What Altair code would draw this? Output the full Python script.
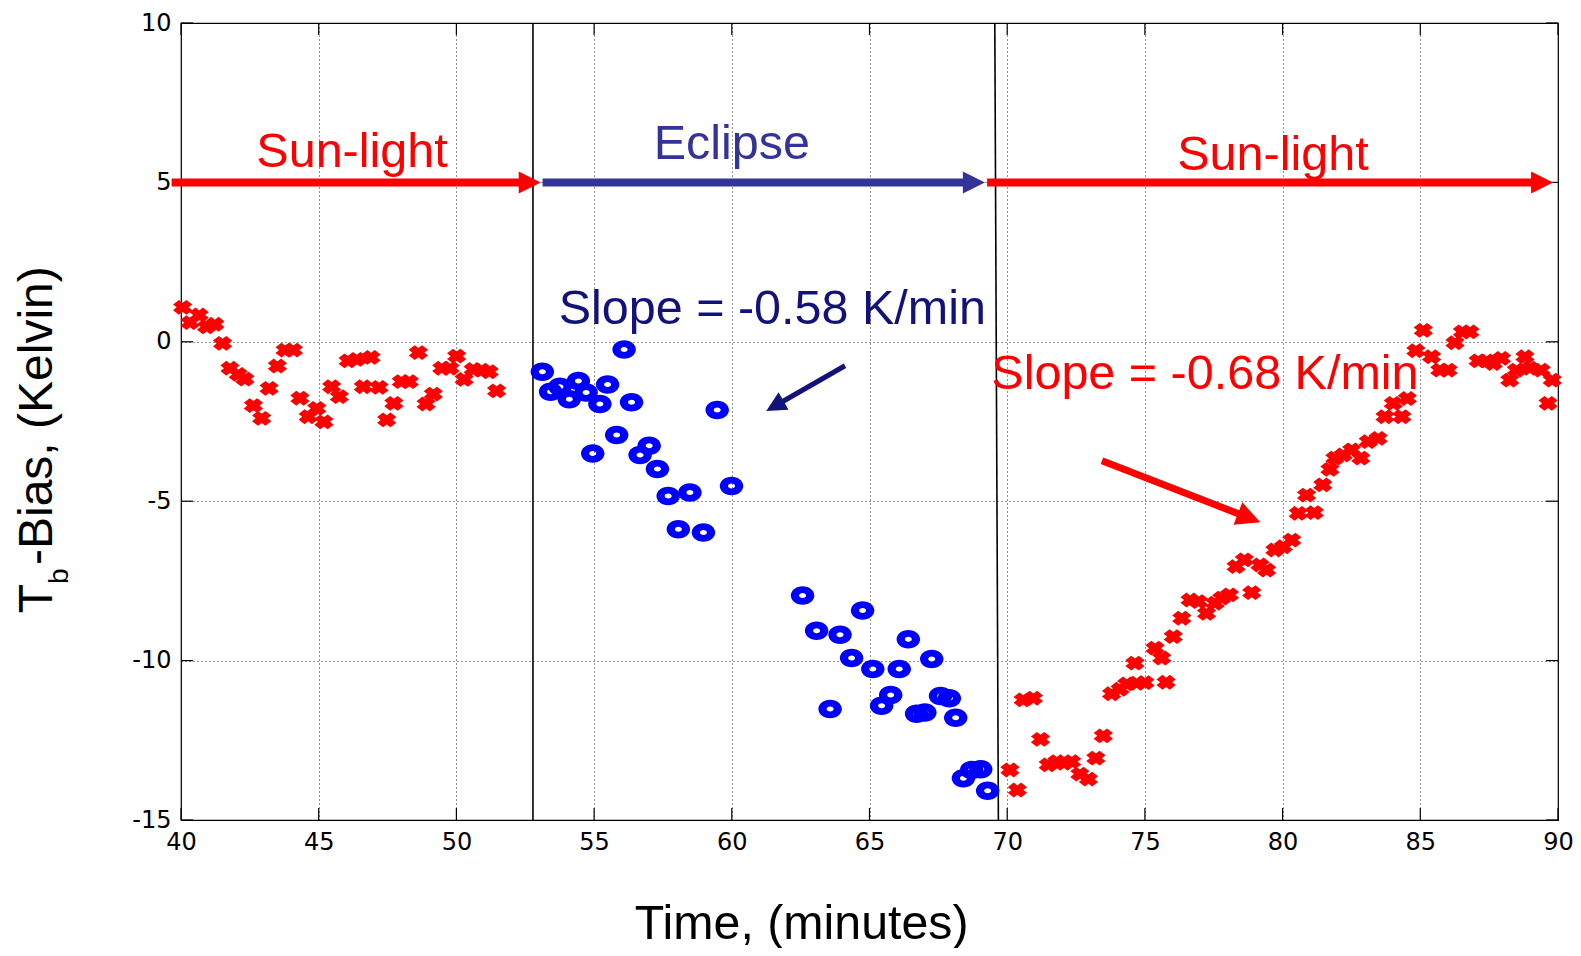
import math
import altair as alt
import pandas as pd

# ---------------- data ----------------
sun1_t = [40.06, 40.33, 40.66, 40.93, 41.23, 41.51, 41.78, 42.08, 42.32, 42.63, 42.93, 43.2, 43.5, 43.78,
          44.08, 44.32, 44.62, 44.93, 45.19, 45.47, 45.75, 46.07, 46.38, 46.62, 46.9, 47.19, 47.47, 47.73,
          48.0, 48.29, 48.62, 48.9, 49.16, 49.47, 49.77, 50.01, 50.28, 50.61, 50.92, 51.19, 51.46]
sun1_v = [1.08, 0.60, 0.84, 0.47, 0.55, -0.05, -0.83, -1.02, -1.17, -2.0, -2.40, -1.46, -0.76, -0.26,
          -0.26, -1.77, -2.35, -2.09, -2.51, -1.41, -1.72, -0.60, -0.55, -1.41, -0.49, -1.43, -2.45, -1.93,
          -1.25, -1.25, -0.34, -1.95, -1.64, -0.83, -0.83, -0.45, -1.18, -0.87, -0.89, -0.94, -1.54]

ecl_t = [53.12, 53.42, 53.76, 54.1, 54.43, 54.71, 55.21, 55.49, 54.95, 56.09, 56.36, 55.82, 57.0, 56.67,
         57.3, 57.69, 58.48, 58.06, 58.97, 59.47, 59.99, 62.57, 63.08, 63.93, 64.75, 64.35, 65.12, 66.08,
         66.41, 67.26, 63.57, 65.77, 65.44, 66.71, 67.01, 67.58, 67.9, 68.13, 68.41, 68.71, 69.04, 69.29]
ecl_v = [-0.94, -1.57, -1.41, -1.80, -1.23, -1.59, -1.95, -1.34, -3.50, -0.24, -1.90, -2.92, -3.26, -3.55,
         -3.99, -4.84, -4.73, -5.88, -5.98, -2.14, -4.52, -7.96, -9.06, -9.19, -8.43, -9.92, -10.26, -10.26,
         -9.33, -9.95, -11.52, -11.08, -11.42, -11.67, -11.63, -11.11, -11.18, -11.79, -13.69, -13.43, -13.41, -14.08]

sun2_t = [70.1, 70.37, 70.58, 70.95, 71.21, 71.49, 71.8, 72.06, 72.34, 72.64, 72.95, 73.22, 73.49, 73.79,
          74.1, 74.34, 74.7, 75.0, 74.64, 75.37, 75.61, 75.77, 76.03, 76.34, 76.64, 76.94, 77.24, 77.55,
          77.79, 78.07, 78.31, 78.61, 78.88, 79.18, 79.42, 79.72, 80.03, 80.33, 80.57, 80.87, 81.15, 81.46,
          81.72, 81.9, 82.2, 82.51, 82.84, 83.11, 83.47, 83.72, 84.02, 84.33, 84.53, 84.84, 85.11, 85.41,
          85.71, 86.01, 86.26, 86.53, 86.8, 87.1, 87.41, 87.65, 87.95, 88.25, 88.49, 88.8, 88.98, 89.39,
          89.64, 89.79]
sun2_v = [-13.43, -14.06, -11.23, -11.18, -12.47, -13.27, -13.17, -13.22, -13.17, -13.56, -13.72, -13.06,
          -12.36, -11.04, -10.9, -10.73, -10.71, -10.69, -10.08, -9.61, -9.92, -10.68, -9.25, -8.67, -8.1,
          -8.15, -8.52, -8.2, -8.04, -7.94, -7.05, -6.84, -7.87, -7.0, -7.16, -6.53, -6.43, -6.22, -5.38,
          -4.81, -5.36, -4.49, -4.0, -3.65, -3.55, -3.39, -3.65, -3.13, -3.03, -2.35, -1.93, -2.35, -1.78,
          -0.28, 0.36, -0.47, -0.89, -0.89, -0.03, 0.31, 0.31, -0.6, -0.6, -0.68, -0.52, -1.2, -0.89, -0.47,
          -0.83, -0.89, -1.93, -1.2]

x_ticks = [40, 45, 50, 55, 60, 65, 70, 75, 80, 85, 90]
y_ticks = [-15, -10, -5, 0, 5, 10]

# phase boundaries (vertical black lines): top / bottom x
bound_top = [52.78, 69.55]
bound_bot = [52.78, 69.68]

# phase arrows at y = 5
phase_start = [39.66, 53.13, 69.27]
phase_tip = [53.06, 69.19, 89.82]
phase_level = [5, 5, 5]
phase_color = ["#FF0000", "#333399", "#FF0000"]

# slope arrows
slope_from_t = [64.11, 73.44]
slope_from_v = [-0.75, -3.73]
slope_to_t = [61.25, 79.19]
slope_to_v = [-2.17, -5.66]
slope_color = ["#12127A", "#FF0000"]

# labels
label_text = ["Sun-light", "Eclipse", "Sun-light", "Slope = -0.58 K/min", "Slope = -0.68 K/min"]
label_t = [46.21, 60.0, 79.65, 61.47, 77.18]
label_v = [5.49, 5.72, 5.40, 0.56, -1.47]
label_color = ["#FF0000", "#333399", "#FF0000", "#12127A", "#FF0000"]

# ---------------- geometry ----------------
XMIN, XMAX, YMIN, YMAX = 40, 90, -15, 10
W, H = 1377, 797
PX = W / (XMAX - XMIN)
PY = H / (YMAX - YMIN)

xs = alt.Scale(domain=[XMIN, XMAX], nice=False, zero=False)
ys = alt.Scale(domain=[YMIN, YMAX], nice=False, zero=False)

common_axis = dict(grid=True, gridDash=[1, 3], gridColor="black", gridOpacity=0.85, gridWidth=1,
                   ticks=False, domain=False, labelFont="DejaVu Sans", labelFontSize=24,
                   labelColor="black", labelFlush=False, labelOverlap=False,
                   labelExpr="'' + datum.value", title=None)
xaxis = alt.Axis(values=x_ticks, labelPadding=10, **common_axis)
yaxis = alt.Axis(values=y_ticks, labelPadding=10, **common_axis)


def X(f):
    return alt.X(f, type="quantitative", scale=xs, axis=xaxis)


def Y(f):
    return alt.Y(f, type="quantitative", scale=ys, axis=yaxis)


# marker shapes
def x_marker(w=0.45, sx=1.3):
    pts = [(-w, -1), (w, -1), (w, -w), (1, -w), (1, w), (w, w), (w, 1), (-w, 1), (-w, w), (-1, w), (-1, -w), (-w, -w)]
    r = []
    for x, y in pts:
        rx = (x - y) / math.sqrt(2) * sx
        ry = (x + y) / math.sqrt(2)
        r.append(f"{rx:.3f} {ry:.3f}")
    return "M " + " L ".join(r) + " Z"


ring_marker = ("M -2.35 0 A 2.35 1.85 0 1 1 2.35 0 A 2.35 1.85 0 1 1 -2.35 0 Z "
               "M -0.7 0 A 0.7 0.5 0 1 0 0.7 0 A 0.7 0.5 0 1 0 -0.7 0 Z")
tri_marker = "M -1 -1 L 1 0 L -1 1 Z"

# ---------------- frames ----------------
red_df = pd.DataFrame({"t": sun1_t + sun2_t, "v": sun1_v + sun2_v})
blue_df = pd.DataFrame({"t": ecl_t, "v": ecl_v})

bound_df = pd.DataFrame({"t": bound_top, "t2": bound_bot, "v": [YMAX] * 2, "v2": [YMIN] * 2})


def arrow_geom(t0, v0, t1, v1, k, back=1.8):
    dx = (t1 - t0) * PX
    dy = -(v1 - v0) * PY
    L = math.hypot(dx, dy)
    ux, uy = dx / L, dy / L
    ang = math.degrees(math.atan2(dy, dx)) % 360
    ct = t1 - k * ux / PX
    cv = v1 + k * uy / PY
    st = t1 - back * k * ux / PX
    sv = v1 + back * k * uy / PY
    return ct, cv, st, sv, ang


shaft_rows, head_rows = [], []
for s, tp, lv, c in zip(phase_start, phase_tip, phase_level, phase_color):
    ct, cv, st, sv, ang = arrow_geom(s, lv, tp, lv, 11)
    shaft_rows.append({"t": s, "v": lv, "t2": st, "v2": sv, "c": c, "w": 8})
    head_rows.append({"t": ct, "v": cv, "c": c, "a": ang, "s": 484})
for t0, v0, t1, v1, c, k, wd in zip(slope_from_t, slope_from_v, slope_to_t, slope_to_v, slope_color,
                                    [10, 12], [5, 7]):
    ct, cv, st, sv, ang = arrow_geom(t0, v0, t1, v1, k)
    shaft_rows.append({"t": t0, "v": v0, "t2": st, "v2": sv, "c": c, "w": wd})
    head_rows.append({"t": ct, "v": cv, "c": c, "a": ang, "s": (2 * k) ** 2})
shaft_df = pd.DataFrame(shaft_rows)
head_df = pd.DataFrame(head_rows)

TL = 12  # tick length in px
tick_rows = []
for yv in y_ticks:
    tick_rows.append({"t": XMIN, "t2": XMIN + TL / PX, "v": yv, "v2": yv})
    tick_rows.append({"t": XMAX, "t2": XMAX - TL / PX, "v": yv, "v2": yv})
for xv in x_ticks:
    tick_rows.append({"t": xv, "t2": xv, "v": YMIN, "v2": YMIN + TL / PY})
    tick_rows.append({"t": xv, "t2": xv, "v": YMAX, "v2": YMAX - TL / PY})
tick_df = pd.DataFrame(tick_rows)

label_df = pd.DataFrame({"txt": label_text, "t": label_t, "v": label_v, "c": label_color})

# ---------------- layers ----------------
ticks = alt.Chart(tick_df).mark_rule(color="black", strokeWidth=1.2).encode(
    x=X("t"), x2="t2", y=Y("v"), y2="v2")

bounds = alt.Chart(bound_df).mark_rule(color="black", strokeWidth=1.6).encode(
    x=X("t"), x2="t2", y=Y("v"), y2="v2")

shafts = alt.Chart(shaft_df).mark_rule(strokeCap="butt").encode(
    x=X("t"), x2="t2", y=Y("v"), y2="v2",
    color=alt.Color("c:N", scale=None),
    strokeWidth=alt.StrokeWidth("w:Q", scale=None))

heads = alt.Chart(head_df).mark_point(shape=tri_marker, filled=True, opacity=1, strokeWidth=0).encode(
    x=X("t"), y=Y("v"), color=alt.Color("c:N", scale=None),
    angle=alt.Angle("a:Q", scale=None), size=alt.Size("s:Q", scale=None))

red_pts = alt.Chart(red_df).mark_point(shape=x_marker(), filled=True, color="#FF0000", opacity=1,
                                       size=210, strokeWidth=0).encode(x=X("t"), y=Y("v"))

blue_pts = alt.Chart(blue_df).mark_point(shape=ring_marker, filled=True, color="#0000FF", opacity=1,
                                         size=100, strokeWidth=0).encode(x=X("t"), y=Y("v"))

labels = alt.Chart(label_df).mark_text(font="Liberation Sans", fontSize=48.5, align="center",
                                       baseline="alphabetic").encode(
    x=X("t"), y=Y("v"), text="txt:N", color=alt.Color("c:N", scale=None))

# axis titles (with subscript)
ttl_font = "Liberation Sans"
yt1 = alt.Chart(pd.DataFrame({"s": ["T"]})).mark_text(
    font=ttl_font, fontSize=48, angle=270, align="left", baseline="alphabetic", color="black").encode(
    text="s:N", x=alt.value(-129.3), y=alt.value(590.3))
yt2 = alt.Chart(pd.DataFrame({"s": ["b"]})).mark_text(
    font=ttl_font, fontSize=28, angle=270, align="left", baseline="alphabetic", color="black").encode(
    text="s:N", x=alt.value(-113), y=alt.value(561))
yt3 = alt.Chart(pd.DataFrame({"s": ["-Bias, (Kelvin)"]})).mark_text(
    font=ttl_font, fontSize=48, angle=270, align="left", baseline="alphabetic", color="black").encode(
    text="s:N", x=alt.value(-129.3), y=alt.value(542))
xt = alt.Chart(pd.DataFrame({"s": ["Time, (minutes)"]})).mark_text(
    font=ttl_font, fontSize=48.3, align="center", baseline="alphabetic", color="black").encode(
    text="s:N", x=alt.value(620.7), y=alt.value(915.6))

chart = alt.layer(ticks, bounds, shafts, heads, red_pts, blue_pts, labels, yt1, yt2, yt3, xt).properties(
    width=W, height=H,
    padding={"left": 173, "top": 15, "right": 15, "bottom": 128},
    autosize=alt.AutoSizeParams(type="none"),
    background="white",
).configure_view(stroke="black", strokeWidth=1.2)

chart.save("out.html", embed_options={"renderer": "svg", "actions": False})
